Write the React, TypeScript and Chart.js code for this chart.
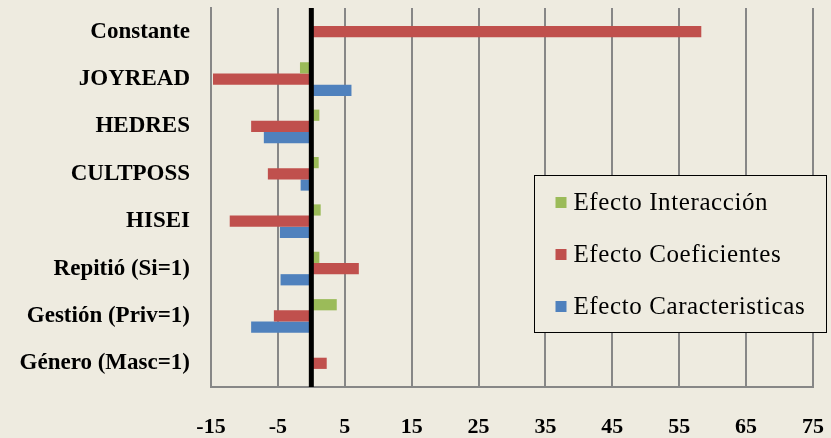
import React, { useEffect, useRef } from 'react';
import { Chart, registerables } from 'chart.js';

Chart.register(...registerables);

const categories = [
  'Constante',
  'JOYREAD',
  'HEDRES',
  'CULTPOSS',
  'HISEI',
  'Repitió (Si=1)',
  'Gestión (Priv=1)',
  'Género (Masc=1)',
];
const seriesNames = ['Efecto Interacción', 'Efecto Coeficientes', 'Efecto Caracteristicas'];
const interaccion = [0, -1.7, 1.2, 1.1, 1.4, 1.2, 3.8, 0];
const coeficientes = [58.3, -14.7, -9.0, -6.5, -12.2, 7.1, -5.6, 2.3];
const caracteristicas = [0, 6.0, -7.1, -1.6, -4.7, -4.6, -9.0, 0];
const xTicks = [-15, -5, 5, 15, 25, 35, 45, 55, 65, 75];

const BG = '#EEEBE0';
const GRID = '#878787';
const COLORS = ['#9BBB59', '#C0504D', '#4F81BD'];
const FONT = "'Liberation Serif', 'DejaVu Serif', serif";

const bgPlugin = {
  id: 'bg',
  beforeDraw(chart: any) {
    const ctx = chart.ctx;
    ctx.save();
    ctx.fillStyle = BG;
    ctx.fillRect(0, 0, chart.width, chart.height);
    ctx.restore();
  },
};

const zeroLinePlugin = {
  id: 'zeroLine',
  afterDatasetsDraw(chart: any) {
    const ctx = chart.ctx;
    const xs = chart.scales.x;
    const x0 = xs.getPixelForValue(0);
    const { top, bottom } = chart.chartArea;
    ctx.save();
    ctx.strokeStyle = '#000';
    ctx.lineWidth = 5;
    ctx.beginPath();
    ctx.moveTo(x0, top);
    ctx.lineTo(x0, bottom);
    ctx.stroke();
    ctx.restore();
  },
};

const legendPlugin = {
  id: 'insideLegend',
  afterDraw(chart: any) {
    const ctx = chart.ctx;
    const ca = chart.chartArea;
    const x = Math.round(ca.left + 323) + 0.5;
    const y = Math.round(ca.top + 167) + 0.5;
    const w = 292;
    const h = 157;
    ctx.save();
    ctx.fillStyle = BG;
    ctx.fillRect(x, y, w, h);
    ctx.strokeStyle = '#000';
    ctx.lineWidth = 1;
    ctx.strokeRect(x, y, w, h);
    ctx.font = `25px ${FONT}`;
    try {
      (ctx as any).letterSpacing = '0.6px';
    } catch (e) {}
    ctx.textBaseline = 'middle';
    ctx.textAlign = 'left';
    chart.data.datasets.forEach((ds: any, i: number) => {
      const cy = y + 27 + i * 52;
      ctx.fillStyle = ds.backgroundColor;
      ctx.fillRect(x + 21, cy - 5.5, 11, 11);
      ctx.fillStyle = '#000';
      ctx.fillText(ds.label, x + 39, cy + 1);
    });
    ctx.restore();
  },
};

export default function App() {
  const ref = useRef<HTMLCanvasElement | null>(null);

  useEffect(() => {
    document.body.style.margin = '0';
    const canvas = ref.current;
    if (!canvas) return;
    const chart = new Chart(canvas, {
      type: 'bar',
      data: {
        labels: categories,
        datasets: [
          { label: seriesNames[0], data: interaccion, backgroundColor: COLORS[0] },
          { label: seriesNames[1], data: coeficientes, backgroundColor: COLORS[1] },
          { label: seriesNames[2], data: caracteristicas, backgroundColor: COLORS[2] },
        ],
      },
      options: {
        indexAxis: 'y',
        responsive: false,
        animation: false,
        maintainAspectRatio: false,
        layout: { padding: { top: 8, right: 18, bottom: 0, left: 0 } },
        datasets: {
          bar: { categoryPercentage: 0.71, barPercentage: 1.0 },
        },
        plugins: {
          legend: { display: false },
          tooltip: { enabled: false },
          title: { display: false },
        },
        scales: {
          x: {
            type: 'linear',
            min: -15,
            max: 75,
            afterBuildTicks(scale: any) {
              scale.ticks = xTicks.map((v) => ({ value: v }));
            },
            afterFit(scale: any) {
              scale.height = 51;
              scale.paddingLeft = 0;
              scale.paddingRight = 0;
              scale.paddingTop = 0;
              scale.paddingBottom = 0;
            },
            grid: { color: GRID, lineWidth: 2, drawTicks: false },
            border: { display: true, color: GRID, width: 2 },
            ticks: {
              color: '#000',
              padding: 27,
              maxRotation: 0,
              autoSkip: false,
              font: { family: FONT, size: 22, weight: 'bold' },
            },
          },
          y: {
            type: 'category',
            afterFit(scale: any) {
              scale.width = 211;
              scale.paddingLeft = 0;
              scale.paddingRight = 0;
              scale.paddingTop = 0;
              scale.paddingBottom = 0;
            },
            grid: { display: false, drawTicks: false },
            border: { display: true, color: GRID, width: 2 },
            ticks: {
              color: '#000',
              padding: 21,
              autoSkip: false,
              font: { family: FONT, size: 23, weight: 'bold' },
            },
          },
        },
      },
      plugins: [bgPlugin, zeroLinePlugin, legendPlugin],
    } as any);
    return () => chart.destroy();
  }, []);

  return (
    <div style={{ width: 831, height: 438 }}>
      <canvas ref={ref} width={831} height={438} style={{ display: 'block' }} />
    </div>
  );
}
